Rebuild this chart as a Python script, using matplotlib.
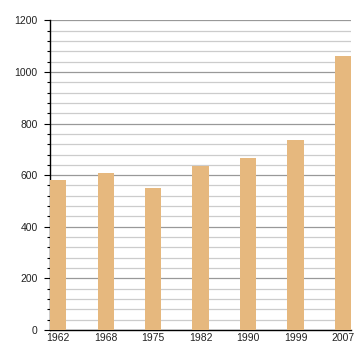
import matplotlib
matplotlib.use('Agg')
import matplotlib.pyplot as plt
from matplotlib.ticker import MultipleLocator

# Données
years = ['1962', '1968', '1975', '1982', '1990', '1999', '2007']
population = [582, 609, 551, 637, 667, 736, 1060]

plt.rcParams['font.family'] = ['Liberation Sans', 'DejaVu Sans']

fig = plt.figure(figsize=(3.6, 3.6), dpi=100)
ax = fig.add_axes([0.139, 0.0833, 0.836, 0.8603])

x = range(len(years))
width = 0.34
ax.bar(x, population, width=width, color='#e6b87e', zorder=3)

ax.set_xlim(-width / 2, len(years) - 1 + width / 2)
ax.set_ylim(0, 1200)
ax.set_xticks(list(x))
ax.set_xticklabels(years)

# Grille principale et secondaire
ax.yaxis.set_major_locator(MultipleLocator(200))
ax.yaxis.set_minor_locator(MultipleLocator(40))
ax.grid(axis='y', which='major', color='#999999', linewidth=0.9, zorder=1)
ax.grid(axis='y', which='minor', color='#cccccc', linewidth=0.9, zorder=1)

for side in ['top', 'right']:
    ax.spines[side].set_visible(False)
ax.spines['left'].set_linewidth(1.0)
ax.spines['bottom'].set_linewidth(1.0)

ax.tick_params(axis='y', which='major', length=4, width=0.8, labelsize=7.5,
               pad=5, labelcolor='#222222')
ax.tick_params(axis='y', which='minor', length=2.5, width=0.8)
ax.tick_params(axis='x', length=0, labelsize=7.5, pad=2, labelcolor='#222222')

fig.savefig('out.png', dpi=100)
